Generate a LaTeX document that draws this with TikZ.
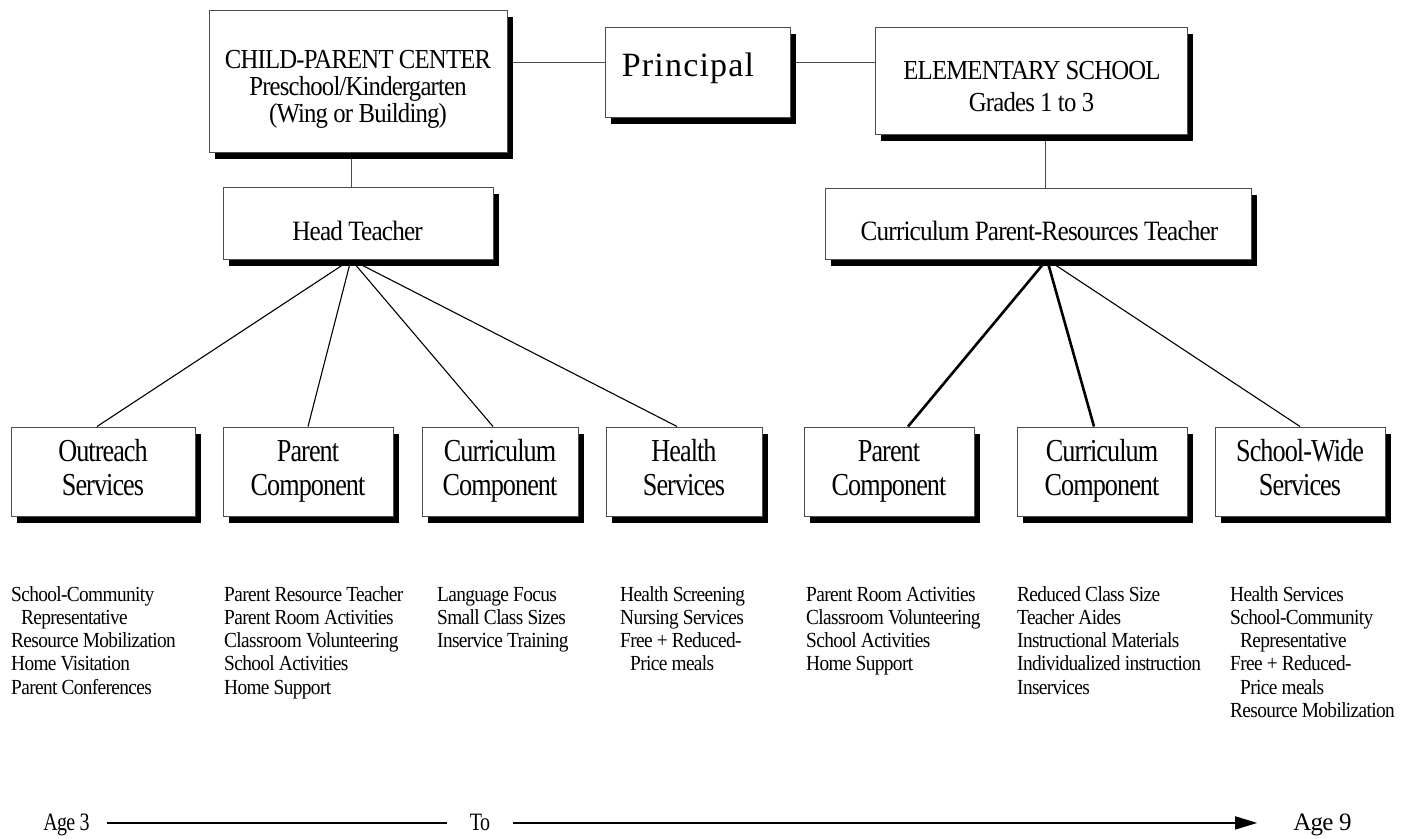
\documentclass[tikz,border=0pt]{standalone}
\usepackage{fontspec}
\setmainfont{Liberation Serif}[FakeStretch=0.9,LetterSpace=-3]
\newfontfamily\compfont{Liberation Serif}[FakeStretch=0.82,LetterSpace=-3]
\newfontfamily\agefont{Liberation Serif}[FakeStretch=0.8,LetterSpace=-3]
\newfontfamily\ageninefont{Liberation Serif}[FakeStretch=1.0,LetterSpace=-3]
\newfontfamily\prinfont{Liberation Serif}[LetterSpace=3.5]
\usetikzlibrary{shadows,arrows.meta,backgrounds,calc}
\tikzset{
  box/.style={draw=black!70, line width=1pt, fill=white, inner sep=0pt, align=center,
    drop shadow={shadow xshift=6pt, shadow yshift=-7pt, fill=black, opacity=1}},
  titletext/.style={inner sep=0pt, anchor=base, font=\fontsize{27.5pt}{27.5pt}\selectfont},
  midtext/.style={inner sep=0pt, anchor=base, font=\fontsize{28pt}{28pt}\selectfont},
  comptext/.style={font=\compfont\fontsize{32pt}{34pt}\selectfont},
  listtext/.style={inner sep=0pt, anchor=north west, align=left, font=\fontsize{21.5pt}{23.3pt}\selectfont},
  agetext/.style={inner sep=0pt, anchor=base, font=\agefont\fontsize{25pt}{25pt}\selectfont},
  conn/.style={line width=1.1pt, black},
  thickconn/.style={line width=2.6pt, black},
  hline/.style={line width=1pt, black!70},
  ageline/.style={line width=1.4pt, black}
}
\begin{document}
\begin{tikzpicture}[x=1pt,y=-1pt]
\useasboundingbox (0,0) rectangle (1408,838);
% top boxes
\node[box, minimum width=298pt, minimum height=142pt] (cpc) at (358,81) {};
\node[box, minimum width=185pt, minimum height=90pt] (prin) at (697.5,72) {};
\node[box, minimum width=312pt, minimum height=107pt] (elem) at (1031,80.5) {};
\node[box, minimum width=270pt, minimum height=72pt] (ht) at (358,223) {};
\node[box, minimum width=426pt, minimum height=71pt] (cprt) at (1038,223.5) {};
% top texts
\node[titletext] (cpc1) at (358,68) {CHILD-PARENT CENTER};
\node[titletext] (cpc2) at (358,95) {Preschool/Kindergarten};
\node[titletext] (cpc3) at (358,122) {(Wing or Building)};
\node[inner sep=0pt, anchor=base, font=\prinfont\fontsize{34pt}{34pt}\selectfont] (prinl) at (688,76) {Principal};
\node[titletext] (elem1) at (1032,79) {ELEMENTARY SCHOOL};
\node[titletext] (elem2) at (1031.5,111) {Grades 1 to 3};
\node[midtext] (htl) at (357.5,240.5) {Head Teacher};
\node[midtext] (cprtl) at (1039.5,240.5) {Curriculum Parent-Resources Teacher};
% component boxes
\node[box, comptext, minimum width=184pt, minimum height=89pt] (out) at (103,471.5) {\strut Outreach\\\strut Services};
\node[box, comptext, minimum width=170pt, minimum height=89pt] (par) at (308,471.5) {\strut Parent\\\strut Component};
\node[box, comptext, minimum width=156pt, minimum height=89pt] (cur) at (500,471.5) {\strut Curriculum\\\strut Component};
\node[box, comptext, minimum width=156pt, minimum height=89pt] (hea) at (684,471.5) {\strut Health\\\strut Services};
\node[box, comptext, minimum width=170pt, minimum height=89pt] (par2) at (889,471.5) {\strut Parent\\\strut Component};
\node[box, comptext, minimum width=170pt, minimum height=89pt] (cur2) at (1102,471.5) {\strut Curriculum\\\strut Component};
\node[box, comptext, minimum width=170pt, minimum height=89pt] (sw) at (1300,471.5) {\strut School-Wide\\\strut Services};
% lists
\node[listtext] (outl) at (11,584.5) {\strut School-Community\\\strut\hspace{10pt}Representative\\\strut Resource Mobilization\\\strut Home Visitation\\\strut Parent Conferences};
\node[listtext] (parl) at (224,584.5) {\strut Parent Resource Teacher\\\strut Parent Room Activities\\\strut Classroom Volunteering\\\strut School Activities\\\strut Home Support};
\node[listtext] (curl) at (437,584.5) {\strut Language Focus\\\strut Small Class Sizes\\\strut Inservice Training};
\node[listtext] (heal) at (620,584.5) {\strut Health Screening\\\strut Nursing Services\\\strut Free + Reduced-\\\strut\hspace{10pt}Price meals};
\node[listtext] (par2l) at (806,584.5) {\strut Parent Room Activities\\\strut Classroom Volunteering\\\strut School Activities\\\strut Home Support};
\node[listtext] (cur2l) at (1017,584.5) {\strut Reduced Class Size\\\strut Teacher Aides\\\strut Instructional Materials\\\strut Individualized instruction\\\strut Inservices};
\node[listtext] (swl) at (1230,584.5) {\strut Health Services\\\strut School-Community\\\strut\hspace{10pt}Representative\\\strut Free + Reduced-\\\strut\hspace{10pt}Price meals\\\strut Resource Mobilization};
% age line
\node[agetext] (age3) at (66.5,830) {Age 3};
\node[agetext] (to) at (480,830) {To};
\node[agetext, font=\ageninefont\fontsize{25pt}{25pt}\selectfont] (age9) at (1322.5,830) {Age 9};
\draw[ageline, shorten <=17pt, shorten >=23pt] ([yshift=1.5pt]age3.east) -- ([yshift=1.5pt]age3.east -| to.west);
\draw[ageline, shorten <=23pt, shorten >=36pt, -{Triangle[length=22pt,width=13pt]}] ([yshift=1.5pt]to.east |- age3.east) -- ([yshift=1.5pt]age3.east -| age9.west);
% connectors
\begin{scope}[on background layer]
\fill[white] (0,0) rectangle (1408,838);
\draw[hline] ([yshift=10pt]prin.west) -- ([yshift=10pt]prin.west -| cpc.east);
\draw[hline] ([yshift=10pt]prin.east) -- ([yshift=10pt]prin.east -| elem.west);
\draw[hline] ([xshift=-7pt]cpc.south) -- ([xshift=-7pt]cpc.south |- ht.north);
\draw[hline] ([xshift=14pt]elem.south) -- ([xshift=14pt]elem.south |- cprt.north);
\coordinate (htb) at ([xshift=-7pt]ht.south);
\coordinate (cb) at ([xshift=9pt]cprt.south);
\draw[conn] (htb) -- ([xshift=-6pt]out.north);
\draw[conn] (htb) -- (par.north);
\draw[conn] (htb) -- ([xshift=-7pt]cur.north);
\draw[conn] (htb) -- ([xshift=-7pt]hea.north);
\draw[thickconn] (cb) -- ([xshift=19pt]par2.north);
\draw[thickconn] (cb) -- ([xshift=-8pt]cur2.north);
\draw[conn] (cb) -- (sw.north);
\end{scope}
\end{tikzpicture}
\end{document}
